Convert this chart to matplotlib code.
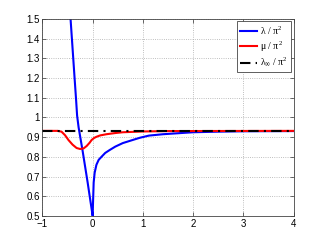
import numpy as np
import matplotlib
matplotlib.use('Agg')
import matplotlib.pyplot as plt

# values
lam_x = [-0.47, -0.44, -0.40, -0.36, -0.33, -0.31, -0.28, -0.20, -0.10, 0.0,
         0.005, 0.02, 0.04, 0.075, 0.12, 0.175, 0.25, 0.34, 0.45, 0.6,
         0.8, 0.94, 1.12, 1.4, 1.7, 2.0, 2.5, 3.0, 4.0]
lam_y = [1.62, 1.50, 1.35, 1.20, 1.09, 1.01, 0.95, 0.83, 0.67, 0.50,
         0.55, 0.67, 0.72, 0.76, 0.785, 0.80, 0.82, 0.835, 0.852, 0.87,
         0.886, 0.897, 0.908, 0.915, 0.92, 0.925, 0.928, 0.930, 0.931]

mu_x = [-1.0, -0.7, -0.62, -0.55, -0.48, -0.40, -0.32, -0.25, -0.18, -0.12,
        -0.06, -0.02, 0.03, 0.075, 0.15, 0.275, 0.45, 0.6, 1.0, 1.5, 4.0]
mu_y = [0.932, 0.932, 0.928, 0.91, 0.885, 0.862, 0.845, 0.84, 0.843, 0.855,
        0.872, 0.886, 0.896, 0.902, 0.909, 0.915, 0.921, 0.925, 0.929, 0.931, 0.932]

lam_inf = 0.932

xticks = [-1, 0, 1, 2, 3, 4]
yticks = [0.5, 0.6, 0.7, 0.8, 0.9, 1.0, 1.1, 1.2, 1.3, 1.4, 1.5]
ytick_labels = ['0.5', '0.6', '0.7', '0.8', '0.9', '1', '1.1', '1.2', '1.3', '1.4', '1.5']

plt.rcParams['font.family'] = ['Liberation Sans', 'DejaVu Sans']
# upright serif for the legend maths
plt.rcParams['mathtext.fontset'] = 'custom'
plt.rcParams['mathtext.rm'] = 'Liberation Serif'
plt.rcParams['mathtext.it'] = 'Liberation Serif'
plt.rcParams['mathtext.bf'] = 'Liberation Serif:bold'

fig = plt.figure(figsize=(3.24, 2.44), dpi=100)
ax = fig.add_axes([0.131, 0.115, 0.775, 0.807])

ax.plot(lam_x, lam_y, color='#0000ff', lw=1.5, label=r'$\lambda\ /\ \pi^2$')
ax.plot(mu_x, mu_y, color='#ff0000', lw=1.5, label=r'$\mu\ /\ \pi^2$')
ax.plot([-1, 4], [lam_inf, lam_inf], color='black', lw=1.5, ls='-.',
        dashes=(5, 2.5, 1, 2.5), label=r'$\lambda_\infty\ /\ \pi^2$')

ax.set_xlim(-1, 4)
ax.set_ylim(0.5, 1.5)
ax.set_xticks(xticks)
ax.set_yticks(yticks)
ax.set_yticklabels(ytick_labels)
ax.tick_params(direction='in', length=3, width=0.5, labelsize=7,
               top=True, right=True, colors='#333333', labelcolor='black', pad=2)
ax.grid(True, ls=':', lw=0.6, color='#aaaaaa')
for s in ax.spines.values():
    s.set_linewidth(0.6)
    s.set_color('#444444')

leg = ax.legend(loc='upper right', fontsize=7, handlelength=1.8,
                fancybox=False, framealpha=1, borderpad=0.3,
                labelspacing=0.25, handletextpad=0.3, borderaxespad=0.25)
leg.get_frame().set_edgecolor('#444444')
leg.get_frame().set_linewidth(0.6)

fig.savefig('out.png', dpi=100)
